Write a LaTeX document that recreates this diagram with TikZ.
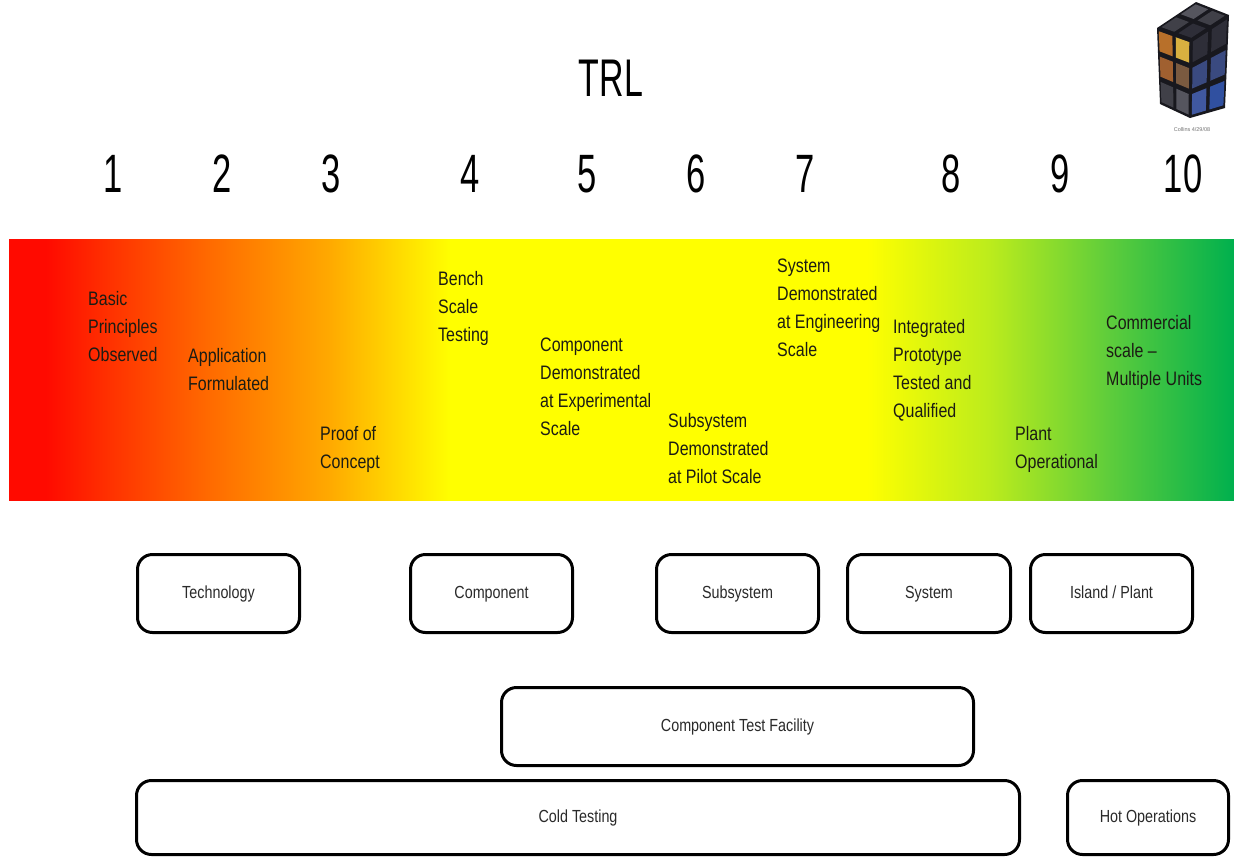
\documentclass[tikz,border=0pt]{standalone}
\usepackage{fontspec}
\setmainfont{Liberation Sans}
\newfontfamily\narrowfont[FakeStretch=0.82]{Liberation Sans}
\newfontfamily\tallfont[FakeStretch=0.64]{Liberation Sans}
\usetikzlibrary{calc}

% colour scale of the readiness bar
\definecolor{trlred}{HTML}{FF0A00}
\definecolor{trlredorange}{HTML}{FF3000}
\definecolor{trlorange}{HTML}{FF6800}
\definecolor{trlamber}{HTML}{FFA800}
\definecolor{trlyellow}{HTML}{FFFF00}
\definecolor{trllime}{HTML}{BCEC1C}
\definecolor{trlgreenmid}{HTML}{5CCC3C}
\definecolor{trlgreen}{HTML}{00B04E}
\definecolor{milestonetext}{HTML}{1C1C14}
\definecolor{labelgray}{HTML}{2A2A2A}

% cube colours
\definecolor{cubedark}{HTML}{18181E}
\definecolor{tileA}{HTML}{B8702A}
\definecolor{tileB}{HTML}{D8B040}
\definecolor{tileC}{HTML}{A06030}
\definecolor{tileD}{HTML}{7A5A40}
\definecolor{tileE}{HTML}{404048}
\definecolor{tileF}{HTML}{55555E}
\definecolor{tileG}{HTML}{2E2E38}
\definecolor{tileH}{HTML}{3A4A80}
\definecolor{tileI}{HTML}{4058A0}
\definecolor{tileJ}{HTML}{3050A0}

\pgfdeclarehorizontalshading{trlscale}{100bp}{%
  color(0bp)=(trlred); color(25bp)=(trlred); color(26.5bp)=(trlred);
  color(29bp)=(trlredorange); color(33bp)=(trlorange); color(38bp)=(trlamber);
  color(43bp)=(trlyellow);
  color(60bp)=(trlyellow); color(65bp)=(trllime); color(70bp)=(trlgreenmid);
  color(75bp)=(trlgreen); color(100bp)=(trlgreen)}

% one tile of a cube face, given by its four corners and a sub-square
\newcommand\trltile[9]{%
  \fill[#9] ($($(#1)!#5!(#2)$)!#7!($(#3)!#5!(#4)$)$) --
            ($($(#1)!#6!(#2)$)!#7!($(#3)!#6!(#4)$)$) --
            ($($(#1)!#6!(#2)$)!#8!($(#3)!#6!(#4)$)$) --
            ($($(#1)!#5!(#2)$)!#8!($(#3)!#5!(#4)$)$) -- cycle;}

\begin{document}
\begin{tikzpicture}[x=1pt,y=-1pt,
  stage/.style={rounded corners=15pt, draw=black, line width=3pt, fill=white,
    inner sep=0pt, text height=12.5pt, text depth=3.5pt,
    font=\narrowfont\fontsize{17.5}{20}\selectfont, text=labelgray},
  milestone/.style={anchor=west, align=left, inner sep=0pt,
    font=\narrowfont\fontsize{19.5}{28}\selectfont, text=milestonetext},
  level/.style={anchor=base, inner sep=0pt, font=\tallfont\fontsize{54}{60}\selectfont}]

\useasboundingbox[fill=white] (0,0) rectangle (1234,857);

% title
\node[anchor=base, inner sep=0pt, font=\tallfont\fontsize{53}{60}\selectfont] (title) at (611,96) {TRL};

% level numbers
\node[level] (n1) at (113,192) {1};
\node[level] (n2) at (222,192) {2};
\node[level] (n3) at (331,192) {3};
\node[level] (n4) at (470,192) {4};
\node[level] (n5) at (587,192) {5};
\node[level] (n6) at (696,192) {6};
\node[level] (n7) at (805,192) {7};
\node[level] (n8) at (951,192) {8};
\node[level] (n9) at (1060,192) {9};
\node[level] (n10) at (1183,192) {10};

% readiness bar
\shade[shading=trlscale] (9,239) rectangle (1234,500);

% milestones on the bar
\node[milestone] (m1) at (88,327) {Basic\\Principles\\Observed};
\node[milestone] (m2) at (188,370) {Application\\Formulated};
\node[milestone] (m3) at (320,449) {Proof of\\Concept};
\node[milestone] (m4) at (438,308) {Bench\\Scale\\Testing};
\node[milestone] (m5) at (540,387) {Component\\Demonstrated\\at Experimental\\Scale};
\node[milestone] (m6) at (668,449) {Subsystem\\Demonstrated\\at Pilot Scale};
\node[milestone] (m7) at (777,308) {System\\Demonstrated\\at Engineering\\Scale};
\node[milestone] (m8) at (893,370) {Integrated\\Prototype\\Tested and\\Qualified};
\node[milestone] (m9) at (1015,449) {Plant\\Operational};
\node[milestone] (m10) at (1106,352) {Commercial\\scale –\\Multiple Units};

% scale of the item under test
\node[stage, minimum width=162pt, minimum height=78pt] (tech) at (218.5,593.5) {Technology};
\node[stage, minimum width=162pt, minimum height=78pt] (comp) at (491.5,593.5) {Component};
\node[stage, minimum width=162pt, minimum height=78pt] (subsys) at (737.5,593.5) {Subsystem};
\node[stage, minimum width=163pt, minimum height=78pt] (sys) at (929,593.5) {System};
\node[stage, minimum width=162pt, minimum height=78pt] (island) at (1111.5,593.5) {Island / Plant};

% test facilities
\node[stage, minimum width=472pt, minimum height=78pt] (ctf) at (737.5,726.5) {Component Test Facility};
\node[stage, minimum width=883pt, minimum height=74pt] (cold) at (578,817.5) {Cold Testing};
\node[stage, minimum width=161pt, minimum height=74pt] (hot) at (1148,817.5) {Hot Operations};

% cube emblem
\coordinate (cA) at (1157,28);
\coordinate (cB) at (1191,40);
\coordinate (cC) at (1229,15);
\coordinate (cD) at (1196,2);
\coordinate (cA2) at (1160,104);
\coordinate (cB2) at (1190,118);
\coordinate (cC2) at (1225,108);
\fill[cubedark] (cA) -- (cD) -- (cC) -- (cC2) -- (cB2) -- (cA2) -- cycle;
\foreach \u/\v/\c in {0/0/tileA, 1/0/tileB, 0/1/tileC, 1/1/tileD, 0/2/tileE, 1/2/tileF}{
  \pgfmathsetmacro\ua{\u/2+0.05}\pgfmathsetmacro\ub{(\u+1)/2-0.05}
  \pgfmathsetmacro\va{\v/3+0.035}\pgfmathsetmacro\vb{(\v+1)/3-0.035}
  \trltile{cA}{cB}{cA2}{cB2}{\ua}{\ub}{\va}{\vb}{\c}
}
\foreach \u/\v/\c in {0/0/tileG, 1/0/tileG, 0/1/tileH, 1/1/tileH, 0/2/tileI, 1/2/tileJ}{
  \pgfmathsetmacro\ua{\u/2+0.05}\pgfmathsetmacro\ub{(\u+1)/2-0.05}
  \pgfmathsetmacro\va{\v/3+0.035}\pgfmathsetmacro\vb{(\v+1)/3-0.035}
  \trltile{cB}{cC}{cB2}{cC2}{\ua}{\ub}{\va}{\vb}{\c}
}
\foreach \u/\v/\c in {0/0/tileE, 1/0/tileF, 0/1/tileG, 1/1/tileE}{
  \pgfmathsetmacro\ua{\u/2+0.06}\pgfmathsetmacro\ub{(\u+1)/2-0.06}
  \pgfmathsetmacro\va{\v/2+0.06}\pgfmathsetmacro\vb{(\v+1)/2-0.06}
  \trltile{cA}{cD}{cB}{cC}{\ua}{\ub}{\va}{\vb}{\c}
}
\node[inner sep=0pt, font=\fontsize{5.5}{6}\selectfont, text=black!55] (credit) at (1192,130) {Collins 4/29/08};

\end{tikzpicture}
\end{document}
